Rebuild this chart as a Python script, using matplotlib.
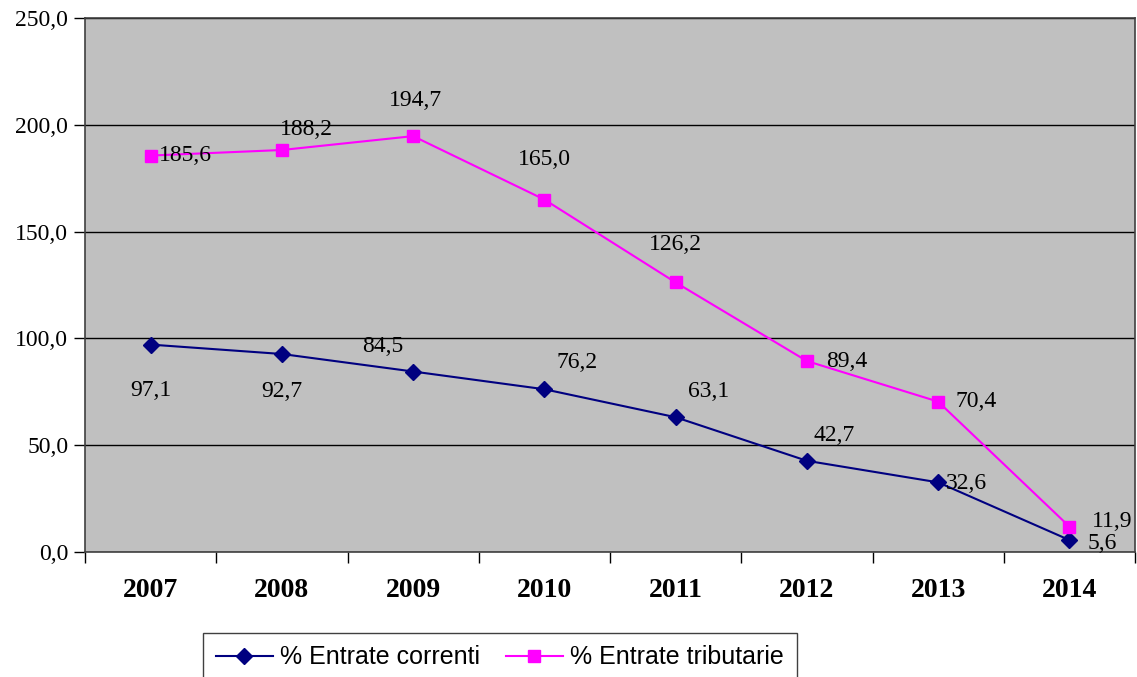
import matplotlib
matplotlib.use("Agg")
import matplotlib.pyplot as plt
from matplotlib.ticker import FuncFormatter

anni = ["2007", "2008", "2009", "2010", "2011", "2012", "2013", "2014"]
correnti = [97.1, 92.7, 84.5, 76.2, 63.1, 42.7, 32.6, 5.6]
tributarie = [185.6, 188.2, 194.7, 165.0, 126.2, 89.4, 70.4, 11.9]

# label offsets in pixels (dx, dy) relative to each marker
off_corr = [(0, -46), (0, -38), (-30, 25), (33, 27), (33, 26), (27, 25), (28, -1), (33, -3)]
off_trib = [(35, 0), (25, 21), (2, 36), (0, 40), (0, 38), (40, 0), (38, 0), (43, 5)]

plt.rcParams['font.family'] = ['Liberation Serif', 'DejaVu Serif']

fig = plt.figure(figsize=(11.37, 6.77), dpi=100)
ax = fig.add_axes([85/1137, 125/677, 1050/1137, 534/677])
ax.set_facecolor("#C0C0C0")

x = list(range(len(anni)))
ax.plot(x, correnti, color="#000080", marker="D", markersize=8, lw=1.5,
        label="% Entrate correnti")
ax.plot(x, tributarie, color="#FF00FF", marker="s", markersize=9, lw=1.5,
        label="% Entrate tributarie")

def fmt(v):
    return f"{v:.1f}".replace(".", ",")

for i, v in enumerate(correnti):
    ax.annotate(fmt(v), (i, v), xytext=off_corr[i], textcoords="offset pixels",
                ha="center", va="center", fontsize=17)
for i, v in enumerate(tributarie):
    ax.annotate(fmt(v), (i, v), xytext=off_trib[i], textcoords="offset pixels",
                ha="center", va="center", fontsize=17)

ax.set_xlim(-0.5, len(anni) - 0.5)
ax.set_ylim(0, 250)
ax.set_yticks([0, 50, 100, 150, 200, 250])
ax.yaxis.set_major_formatter(FuncFormatter(lambda v, p: fmt(v)))
ax.set_xticks(x)
ax.set_xticklabels(anni, fontsize=20, fontweight="bold")
ax.set_xticks([i + 0.5 for i in range(-1, len(anni))], minor=True)
ax.tick_params(axis="x", which="major", length=0, pad=19)
ax.tick_params(axis="x", which="minor", length=8, width=1, direction="out")
ax.tick_params(axis="y", length=8, width=1, labelsize=17, pad=4)
ax.grid(axis="y", color="black", lw=1)
ax.set_axisbelow(True)
for s in ax.spines.values():
    s.set_color("#404040")
    s.set_linewidth(1.2)

fig.legend(loc="upper left", bbox_to_anchor=(203/1137, 1 - 633/677), ncol=2,
           frameon=True, fancybox=False, edgecolor="#404040", framealpha=1,
           prop={"family": "Liberation Sans", "size": 18}, handlelength=2.3,
           handletextpad=0.3, columnspacing=1.0, borderpad=0.5, borderaxespad=0)

fig.savefig("out.png", dpi=100)
